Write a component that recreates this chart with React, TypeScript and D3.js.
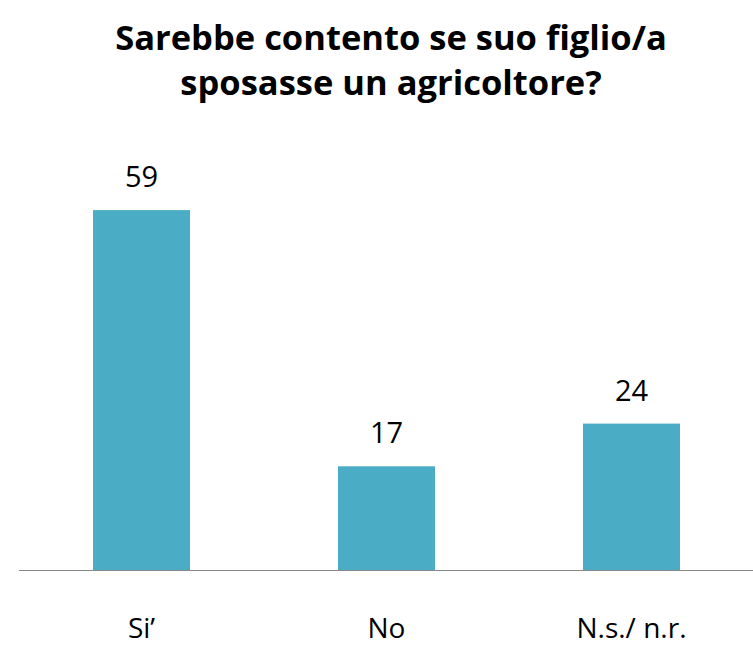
import { useEffect, useRef } from 'react'
import * as d3 from 'd3'

const categories = ['Si’', 'No', 'N.s./ n.r.']
const values = [59, 17, 24]
const titleLines = ['Sarebbe contento se suo figlio/a', 'sposasse un agricoltore?']

export default function App() {
  const svgRef = useRef<SVGSVGElement>(null)

  useEffect(() => {
    if (!svgRef.current) return
    const svg = d3.select(svgRef.current)
    svg.selectAll('*').remove()

    const W = 753
    const H = 646
    const baseY = 570
    const font = '"Open Sans", Calibri, sans-serif'

    svg.attr('width', W).attr('height', H)
    svg.append('rect').attr('width', W).attr('height', H).attr('fill', '#fff')

    const x = d3.scaleBand<string>().domain(categories).range([19, 754]).paddingInner(0.604).paddingOuter(0.302)
    const y = d3.scaleLinear().domain([0, 70]).range([baseY, 143])

    // Title
    svg.append('g').selectAll('text').data(titleLines).join('text')
      .attr('x', 391).attr('y', (_, i) => 50 + i * 45)
      .attr('text-anchor', 'middle')
      .attr('font-family', font).attr('font-weight', 700).attr('font-size', '34.5px')
      .attr('fill', '#000')
      .text(d => d)

    // Bars
    svg.append('g').selectAll('rect').data(values).join('rect')
      .attr('x', (_, i) => x(categories[i])!)
      .attr('y', d => y(d))
      .attr('width', x.bandwidth())
      .attr('height', d => baseY - y(d))
      .attr('fill', '#4BACC6')

    // Baseline
    svg.append('line')
      .attr('x1', 19).attr('x2', W).attr('y1', baseY + 0.5).attr('y2', baseY + 0.5)
      .attr('stroke', '#888').attr('stroke-width', 1)

    // Value labels
    svg.append('g').selectAll('text').data(values).join('text')
      .attr('x', (_, i) => x(categories[i])! + x.bandwidth() / 2)
      .attr('y', d => y(d) - 23)
      .attr('text-anchor', 'middle')
      .attr('font-family', font).attr('font-size', '29px').attr('fill', '#000')
      .text(d => d)

    // Category labels
    svg.append('g').selectAll('text').data(categories).join('text')
      .attr('x', d => x(d)! + x.bandwidth() / 2)
      .attr('y', 638)
      .attr('text-anchor', 'middle')
      .attr('font-family', font).attr('font-size', '28px').attr('fill', '#000')
      .text(d => d)
  }, [])

  return <svg ref={svgRef} style={{ position: 'absolute', left: 0, top: 0, display: 'block' }} />
}
